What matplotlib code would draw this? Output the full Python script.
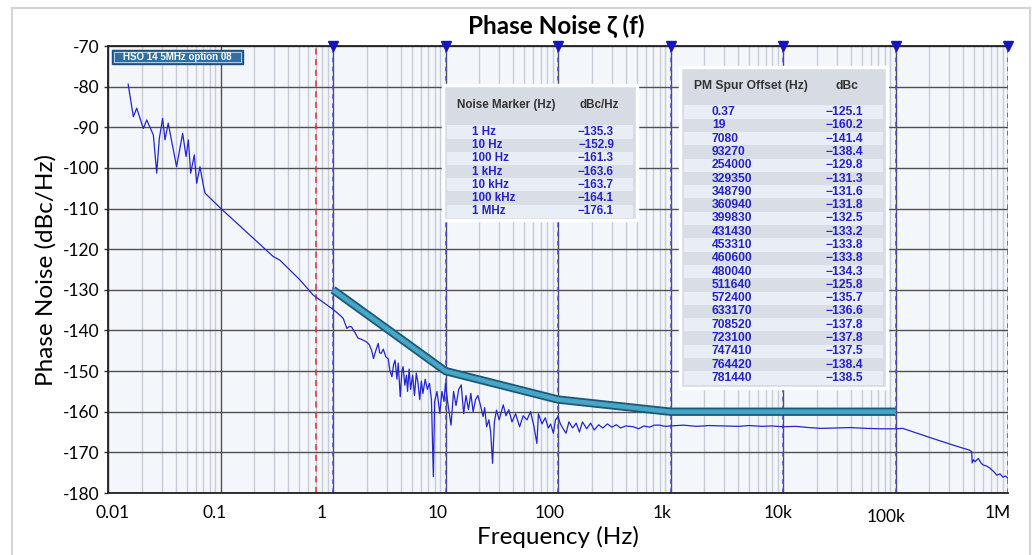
import matplotlib
matplotlib.use("Agg")
import matplotlib.pyplot as plt
from matplotlib.patches import Rectangle
from matplotlib.lines import Line2D
from matplotlib.transforms import ScaledTranslation
import numpy as np

# ---------------- data ----------------
trace_freq = [
    0.0151, 0.0168, 0.018, 0.0206, 0.0221, 0.0253, 0.0271, 0.0286, 0.0306, 0.0321,
    0.0343, 0.0407, 0.0461, 0.0494, 0.0518, 0.0543, 0.0585, 0.0614, 0.0657, 0.0703,
    0.0728, 0.1, 0.294, 0.337, 0.51, 0.667, 1.0, 1.16, 1.23, 1.33, 1.40, 1.46, 1.55,
    1.67, 1.80, 1.98, 2.1, 2.2, 2.29, 2.4, 2.52, 2.6, 2.69, 2.8, 2.95, 3.1, 3.2, 3.34,
    3.45, 3.56, 3.7, 3.8, 3.96, 4.1, 4.2, 4.35, 4.5, 4.6, 4.75, 4.9, 5.1, 5.3, 5.5,
    5.7, 5.9, 6.1, 6.3, 6.6, 6.9, 7.2, 7.5, 7.8, 8.0, 8.4, 8.9, 9.3, 9.7, 10.0, 10.5,
    11.2, 11.8, 12.4, 13.1, 13.8, 14.5, 15.2, 16.0, 16.8, 17.6, 18.5, 19.4, 20.5, 21.6,
    22.3, 23.2, 24.3, 25.2, 26.2, 27.2, 28.4, 30.0, 32.6, 34.5, 36.5, 39.0, 42.0, 45.6,
    49.0, 53.0, 57.0, 61.0, 64.9, 67.0, 72.0, 77.0, 82.0, 86.0, 91.0, 95.0, 100.0, 105,
    110, 118, 125, 135, 145, 155, 165, 180, 195, 210, 230, 250, 275, 300, 330, 360, 400,
    467, 520, 580, 650, 720, 800, 900, 1000, 1300, 1700, 2200, 3000, 4000, 5000, 6500,
    8000, 10000, 13000, 17000, 22000, 30000, 40000, 55000, 75000, 100000, 116000,
    200000, 300000, 401000, 450000, 476000, 480000, 495000, 509000, 545000, 575000,
    602000, 650000, 692000, 750000, 794000, 851000, 901000, 950000, 1000000]
trace_dbc = [
    -79.4, -87.4, -85.3, -90.3, -88.2, -91.9, -101.3, -92.7, -87.8, -93.1,
    -89.0, -99.7, -91.5, -97.2, -93.1, -101.3, -96.8, -103.8, -99.7, -104.2,
    -106.2, -109.9, -121.8, -122.7, -127.6, -131.3, -134.8, -136.3, -137.0, -139.5, -139.0, -139.1, -140.3,
    -141.9, -142.2, -142.8, -143.5, -144.8, -146.9, -145.0, -143.2, -145.5, -145.6, -144.6, -146.5, -147.0, -149.8, -151.4,
    -148.5, -147.3, -152.0, -148.0, -156.3, -150.0, -148.9, -153.5, -151.0, -155.0, -149.5, -154.5, -151.0, -156.0, -150.5,
    -153.0, -157.0, -152.5, -155.5, -152.0, -154.5, -153.0, -157.0, -176.0, -157.5, -155.0, -160.4, -155.0, -157.5, -153.0, -158.0,
    -163.3, -155.0, -158.5, -154.5, -153.4, -160.5, -156.0, -159.5, -155.5, -160.0, -157.0, -156.0, -158.5, -161.2,
    -159.0, -163.7, -162.0, -165.0, -172.7, -162.5, -159.6, -162.0, -158.3, -161.0, -159.5, -162.5, -160.5, -163.7,
    -161.0, -162.0, -160.0, -163.5, -167.8, -160.5, -163.0, -161.5, -164.0, -163.0, -165.3, -162.0, -161.2, -163.0,
    -164.0, -165.3, -162.5, -164.0, -162.8, -165.0, -162.5, -164.2, -162.8, -164.5, -163.2, -164.0, -163.0, -163.8, -163.2, -164.0, -163.5,
    -163.7, -164.2, -163.5, -163.8, -163.3, -163.3, -163.6, -163.5, -163.3, -163.6, -163.4, -163.5, -163.6, -163.4, -163.6,
    -163.5, -163.7, -163.6, -163.9, -164.1, -164.0, -163.9, -164.1, -164.2, -164.2, -164.1,
    -166.3, -167.9, -169.0, -169.4, -169.8, -172.6, -171.8, -172.3, -171.5, -172.6,
    -173.1, -173.4, -173.9, -174.8, -175.6, -175.3, -176.1, -175.8, -176.4]

mask_freq = [1.0, 10.0, 100.0, 1000.0, 100000.0]
mask_dbc = [-130, -150, -157, -160, -160]

marker_freq = [1, 10, 100, 1e3, 1e4, 1e5, 1e6]
red_line_freq = 0.7

noise_marker_labels = ['1 Hz', '10 Hz', '100 Hz', '1 kHz', '10 kHz', '100 kHz', '1 MHz']
noise_marker_values = [-135.3, -152.9, -161.3, -163.6, -163.7, -164.1, -176.1]

spur_offsets = ['0.37', '19', '7080', '93270', '254000', '329350', '348790', '360940',
                '399830', '431430', '453310', '460600', '480040', '511640', '572400',
                '633170', '708520', '723100', '747410', '764420', '781440']
spur_dbc = [-125.1, -160.2, -141.4, -138.4, -129.8, -131.3, -131.6, -131.8, -132.5,
            -133.2, -133.8, -133.8, -134.3, -125.8, -135.7, -136.6, -137.8, -137.8,
            -137.5, -138.4, -138.5]

xtick_vals = [0.01, 0.1, 1, 10, 100, 1e3, 1e4, 1e5, 1e6]
xtick_labels = ['0.01', '0.1', '1', '10', '100', '1k', '10k', '100k', '1M']
ytick_vals = list(range(-180, -69, 10))

title_text = 'Phase Noise \u03b6 (f)'
legend_text = 'HSO 14 5MHz option 08'

# ---------------- figure ----------------
W, H = 1035, 555
fig = plt.figure(figsize=(W / 100, H / 100), dpi=100)
fig.patch.set_facecolor('white')

def fx(px):
    return px / W

def fy(py):
    return 1 - py / H

ax = fig.add_axes([fx(108), fy(493), fx(1008) - fx(108), fy(46) - fy(493)])
ax.set_facecolor('#F3F6FB')
ax.set_xscale('log')
ax.set_xlim(0.01, 1e6)
ax.set_ylim(-180, -70)

main_font = ['Lato', 'DejaVu Sans']
tab_font = ['Liberation Sans', 'DejaVu Sans']

# grid
ax.set_yticks(ytick_vals)
ax.set_yticklabels([str(v) for v in ytick_vals], fontsize=12.5, family=main_font)
ax.set_xticks(xtick_vals)
ax.set_xticklabels(xtick_labels, fontsize=12.5, family=main_font)
ax.xaxis.set_minor_locator(matplotlib.ticker.LogLocator(base=10, subs=np.arange(2, 10), numticks=20))
ax.xaxis.set_minor_formatter(matplotlib.ticker.NullFormatter())
ax.grid(True, which='minor', axis='x', color='#C6CDD8', lw=1.0)
ax.grid(True, which='major', axis='x', color='#505050', lw=1.0)
ax.grid(True, which='major', axis='y', color='#505050', lw=1.0)
ax.set_axisbelow(True)
ax.tick_params(axis='x', which='both', length=0, pad=9)
ax.tick_params(axis='y', which='both', length=3, width=1, color='#303030', pad=3)
for s in ax.spines.values():
    s.set_color('#202020')
    s.set_linewidth(1.3)
ax.spines['right'].set_visible(False)

# tick label offsets (px)
xoffs = [(5, 0), (-6, 0), (-11, 0), (-8, 0), (-8, 0), (-8, 0), (-5, 0), (-9, -4), (-10, 0)]
for lab, (dx, dy) in zip(ax.get_xticklabels(), xoffs):
    lab.set_transform(lab.get_transform() + ScaledTranslation(dx / 100, dy / 100, fig.dpi_scale_trans))

# vertical marker lines
for f in marker_freq:
    ax.axvline(f, color='#4A4AE0', lw=1.1, ls=(0, (3, 3)), zorder=2)
ax.axvline(red_line_freq, color='#E03030', lw=1.1, ls=(0, (4, 3)), zorder=2)
ax.plot(marker_freq, [-70] * len(marker_freq), ls='none', marker='v', ms=7,
        color='#1515C0', clip_on=False, zorder=6)

# trace
ax.plot(trace_freq, trace_dbc, color='#2424D0', lw=0.9, zorder=3)

# mask
ax.plot(mask_freq, mask_dbc, color='#1D5876', lw=6.0, solid_capstyle='butt', zorder=4)
ax.plot(mask_freq, mask_dbc, color='#46A6C8', lw=3.4, solid_capstyle='butt', zorder=4)

# labels
ax.set_xlabel('Frequency (Hz)', fontsize=17.5, family=main_font, labelpad=0)
ax.set_ylabel('Phase Noise (dBc/Hz)', fontsize=17.5, family=main_font, labelpad=5)
fig.text(fx(556), fy(26), title_text, ha='center', va='center', fontsize=17.5,
         fontweight='bold', family=main_font)

# figure border
fig.add_artist(Line2D([fx(12), fx(12)], [fy(8), 0], color='#D5D5D5', lw=1.5))
fig.add_artist(Line2D([fx(12), fx(1030)], [fy(8), fy(8)], color='#D5D5D5', lw=1.5))
fig.add_artist(Line2D([fx(1030), fx(1030)], [fy(8), 0], color='#D5D5D5', lw=1.5))

def prect(x0, y0, x1, y1, **kw):
    r = Rectangle((fx(x0), fy(y1)), fx(x1) - fx(x0), fy(y0) - fy(y1),
                  transform=fig.transFigure, **kw)
    fig.add_artist(r)
    return r

# legend box
prect(112, 50, 243, 64, facecolor='#2F6FA8', edgecolor='#1D4E7C', lw=1.0, zorder=5)
prect(114, 52, 241, 62, facecolor='none', edgecolor='#C8DCF0', lw=0.6, zorder=5)
fig.text(fx(177), fy(57), legend_text, ha='center', va='center', fontsize=7.0,
         fontweight='bold', color='white', family=tab_font, zorder=6)

def draw_table(x0, y0, x1, y1, head1, head2, hx1, hx2, hy, col1, col2, c1x, c2x, ry0, rdy, fs):
    prect(x0, y0, x1, y1, facecolor='#D7DBE3', edgecolor='white', lw=2.5, zorder=5)
    fig.text(fx(hx1), fy(hy), head1, ha='left', va='center', fontsize=fs,
             fontweight='bold', color='#333333', family=tab_font, zorder=7)
    fig.text(fx(hx2), fy(hy), head2, ha='left', va='center', fontsize=fs,
             fontweight='bold', color='#333333', family=tab_font, zorder=7)
    for i, (a, b) in enumerate(zip(col1, col2)):
        yc = ry0 + i * rdy
        col = '#E9EDF5' if i % 2 == 0 else '#D9DDE6'
        prect(x0 + 4, yc - rdy / 2, x1 - 4, yc + rdy / 2, facecolor=col,
              edgecolor='none', zorder=6)
        fig.text(fx(c1x), fy(yc), a, ha='left', va='center', fontsize=fs,
                 fontweight='bold', color='#2323C8', family=tab_font, zorder=7)
        fig.text(fx(c2x), fy(yc), ('\u2212%.1f' % abs(b)), ha='right', va='center',
                 fontsize=fs, fontweight='bold', color='#2323C8', family=tab_font, zorder=7)

draw_table(443, 85, 637, 220, 'Noise Marker (Hz)', 'dBc/Hz', 457, 579, 105,
           noise_marker_labels, noise_marker_values, 472, 614, 132, 13.2, 8.4)
draw_table(680, 67, 887, 388, 'PM Spur Offset (Hz)', 'dBc', 694, 835, 86,
           spur_offsets, spur_dbc, 712, 863, 112, 13.3, 8.7)

fig.savefig('out.png', dpi=100, facecolor='white')
